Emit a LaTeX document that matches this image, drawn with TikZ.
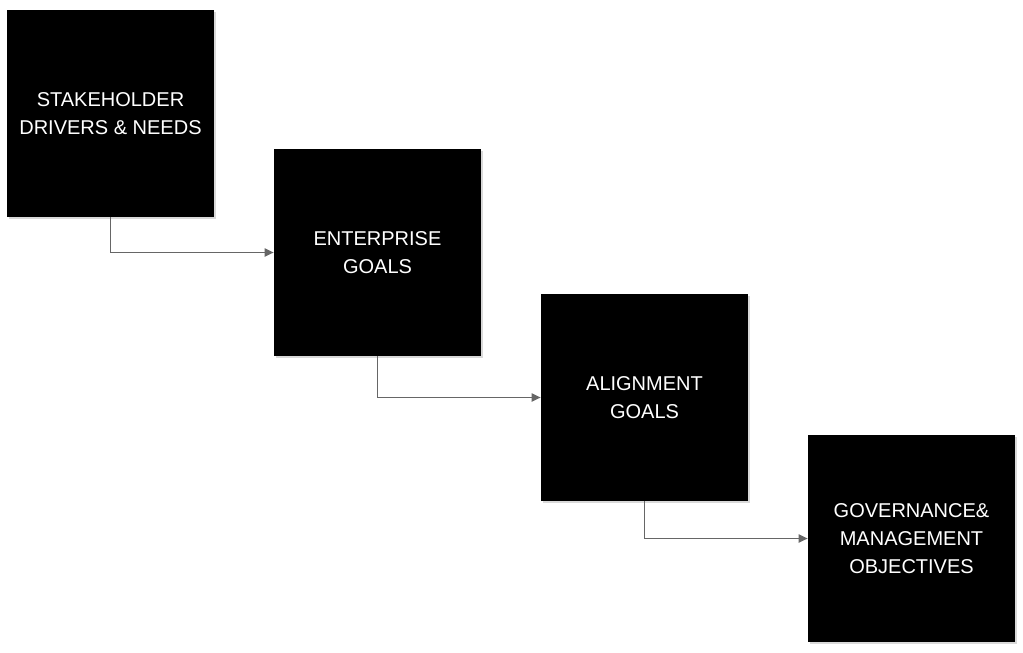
\documentclass[tikz,border=0pt]{standalone}
\usepackage{fontspec}
\setmainfont{Liberation Sans}
\usetikzlibrary{arrows.meta,shadows}

\begin{document}
\begin{tikzpicture}[x=1pt,y=-1pt,semithick]
	  \tikzstyle{goal}=[rectangle,fill=black,text=white,minimum size=207pt,inner sep=0pt,align=center,
	    font=\fontsize{20}{28}\selectfont,drop shadow={opacity=0.3,shadow xshift=2pt,shadow yshift=-2pt}]
	  \tikzstyle{link}=[draw=black!60,line width=1.8pt,-{Triangle[length=9pt,width=8pt]}]

	  \useasboundingbox (0,0) rectangle (1023,653);

	  \node[goal] (S) at (110.5,113.5) {STAKEHOLDER\\DRIVERS \& NEEDS};
	  \node[goal] (E) at (377.5,252.5) {ENTERPRISE\\GOALS};
	  \node[goal] (A) at (644.5,397.5) {ALIGNMENT\\GOALS};
	  \node[goal] (G) at (911.5,538.5) {GOVERNANCE\&\\MANAGEMENT\\OBJECTIVES};

	  \draw[link] (S.south) |- (E.west);
	  \draw[link] (E.south) |- (A.west);
	  \draw[link] (A.south) |- (G.west);
	\end{tikzpicture}
\end{document}
